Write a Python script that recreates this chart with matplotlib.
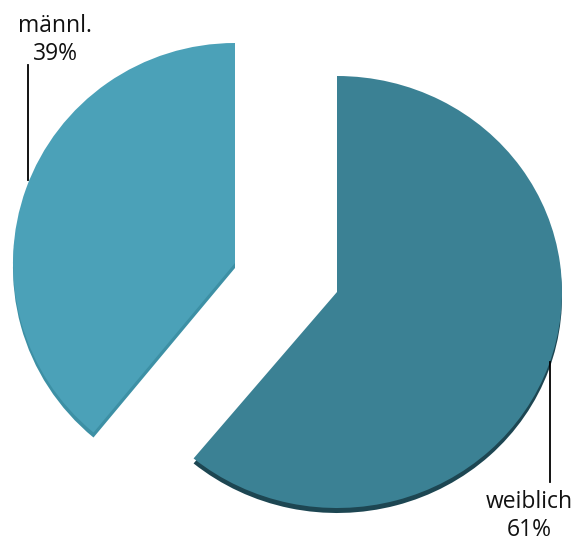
import matplotlib
matplotlib.use("Agg")
import matplotlib.pyplot as plt
from matplotlib.transforms import Affine2D

labels = ["weiblich", "männl."]
shares = [61, 39]

face_colors = ["#3b8194", "#4ba1b8"]
side_colors = ["#1d4652", "#3d90a5"]

W, H = 578, 546
# wedge tips in pixel coords (y up) and x/y radii (slight tilt)
centers = [(337, H - 292), (235, H - 263)]
radii = [(225, 216), (222, 220)]
depth = 5

plt.rcParams['font.family'] = ['Open Sans', 'DejaVu Sans']

fig = plt.figure(figsize=(W / 100, H / 100), dpi=100)
ax = fig.add_axes([0, 0, 1, 1])


def place(wedges, dy):
    for w, (cx, cy), (rx, ry) in zip(wedges, centers, radii):
        w.set_transform(Affine2D().scale(rx, ry).translate(cx, cy + dy)
                        + ax.transData)
        w.set_linewidth(0)


# side faces first: same pie, pushed down a few pixels
side, _ = ax.pie(shares, colors=side_colors, startangle=90,
                 counterclock=False, radius=1)
place(side, -depth)

top, _ = ax.pie(shares, colors=face_colors, startangle=90,
                counterclock=False, radius=1)
place(top, 0)

ax.set_xlim(0, W)
ax.set_ylim(0, H)
ax.set_aspect("equal")
ax.axis("off")

# labels with leader lines
ax.plot([28, 28], [H - 65, H - 180], color="black", lw=1.3)
ax.text(55, H - 40, f"{labels[1]}\n{shares[1]}%", ha="center", va="center",
        fontsize=16.5, linespacing=1.25, color="#111111")

ax.plot([550, 550], [H - 362, H - 482], color="black", lw=1.3)
ax.text(529, H - 516, f"{labels[0]}\n{shares[0]}%", ha="center", va="center",
        fontsize=16.5, linespacing=1.25, color="#111111")

fig.savefig("out.png", dpi=100)
